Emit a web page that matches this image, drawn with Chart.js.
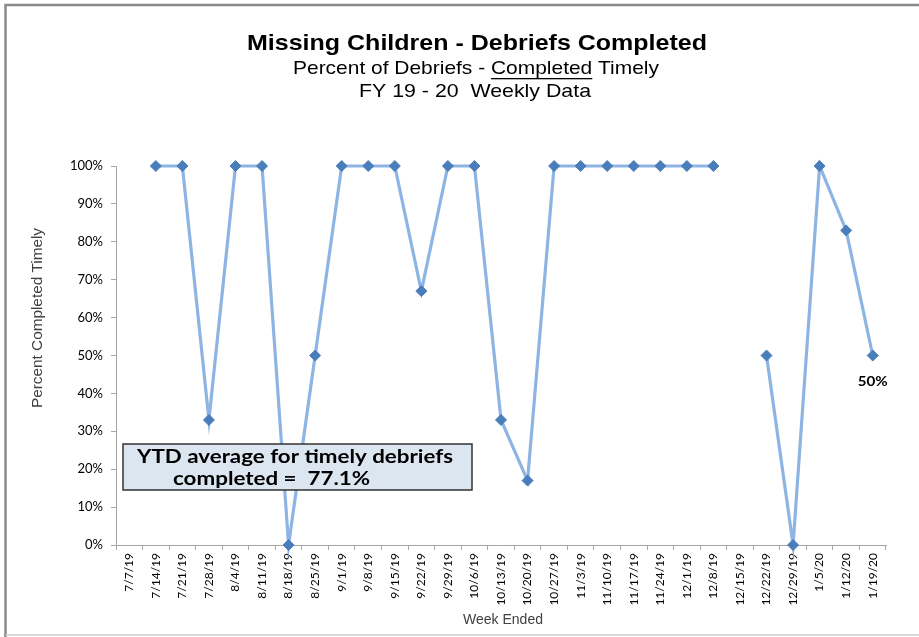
<!DOCTYPE html>
<html>
<head>
<meta charset="utf-8">
<script src="https://cdn.jsdelivr.net/npm/chart.js@4/dist/chart.umd.min.js"></script>
<style>
html,body{margin:0;padding:0;background:#fff;}
#wrap{position:relative;width:919px;height:637px;}
</style>
</head>
<body>
<div id="wrap"><canvas id="c" width="919" height="637"></canvas></div>
<script>
const weeks = ["7/7/19","7/14/19","7/21/19","7/28/19","8/4/19","8/11/19","8/18/19","8/25/19","9/1/19","9/8/19","9/15/19","9/22/19","9/29/19","10/6/19","10/13/19","10/20/19","10/27/19","11/3/19","11/10/19","11/17/19","11/24/19","12/1/19","12/8/19","12/15/19","12/22/19","12/29/19","1/5/20","1/12/20","1/19/20"];
const pctTimely = [null,100,100,33,100,100,0,50,100,100,100,67,100,100,33,17,100,100,100,100,100,100,100,null,50,0,100,83,50];
const yTicks = [0,10,20,30,40,50,60,70,80,90,100];
const titleText = "Missing Children - Debriefs Completed";
const subtitle1 = ["Percent of Debriefs - ","Completed"," Timely"];
const subtitle2 = "FY 19 - 20  Weekly Data";
const ytdText = ["YTD average for timely debriefs","completed =  77.1%"];
const lastLabel = "50%";
const yTitle = "Percent Completed Timely";
const xTitle = "Week Ended";

// draw text at (x,y) (left edge), horizontally scaled to targetW
function fitText(ctx, text, x, y, targetW){
  const w = ctx.measureText(text).width;
  const k = targetW / w;
  ctx.save();
  ctx.translate(x, y);
  ctx.scale(k, 1);
  ctx.textAlign = 'left';
  ctx.fillText(text, 0, 0);
  ctx.restore();
  return k;
}

const decor = {
  id:'decor',
  beforeDraw(chart){
    const ctx = chart.ctx;
    ctx.save();
    ctx.fillStyle = '#fff';
    ctx.fillRect(0,0,chart.width,chart.height);
    ctx.strokeStyle = '#8a8a8a';
    ctx.lineWidth = 2.5;
    ctx.beginPath();
    ctx.moveTo(5.5,637); ctx.lineTo(5.5,5); ctx.lineTo(919,5);
    ctx.stroke();
    ctx.strokeStyle = '#d9d9d9';
    ctx.lineWidth = 2;
    ctx.beginPath();
    ctx.moveTo(6,635); ctx.lineTo(919,635);
    ctx.stroke();
    ctx.restore();
  },
  afterDraw(chart){
    const ctx = chart.ctx;
    ctx.save();
    ctx.fillStyle = '#000';
    ctx.textBaseline = 'middle';
    const sans = '"Liberation Sans", Arial, sans-serif';
    ctx.font = 'bold 22px ' + sans;
    fitText(ctx, titleText, 247, 44, 460);
    ctx.font = '19px ' + sans;
    const full = subtitle1.join('');
    const wf = ctx.measureText(full).width;
    const k = 366 / wf;
    const w0 = ctx.measureText(subtitle1[0]).width * k;
    const w1 = ctx.measureText(subtitle1[1]).width * k;
    fitText(ctx, full, 293, 69, 366);
    ctx.fillRect(293 + w0, 78, w1, 1.3);
    fitText(ctx, subtitle2, 359, 92, 232);

    ctx.fillStyle = '#404040';
    ctx.font = '14px ' + sans;
    fitText(ctx, xTitle, 463, 620, 80);
    ctx.save();
    ctx.translate(38, 318);
    ctx.rotate(-Math.PI/2);
    fitText(ctx, yTitle, -90, 0, 180);
    ctx.restore();

    ctx.fillStyle = '#dce6f1';
    ctx.fillRect(123, 444, 349, 46);
    ctx.strokeStyle = '#333';
    ctx.lineWidth = 1.5;
    ctx.strokeRect(123, 444, 349, 46);
    ctx.fillStyle = '#000';
    ctx.font = 'bold 18px Lato, "Open Sans", sans-serif';
    fitText(ctx, ytdText[0], 137, 457, 316);
    fitText(ctx, ytdText[1], 173, 479, 197);

    const meta = chart.getDatasetMeta(0);
    const p = meta.data[pctTimely.length-1];
    ctx.font = 'bold 13px Lato, "Open Sans", sans-serif';
    fitText(ctx, lastLabel, p.x - 15, p.y + 26, 30);
    ctx.restore();
  }
};

new Chart(document.getElementById('c'), {
  type:'line',
  data:{
    labels: weeks,
    datasets:[{
      data: pctTimely,
      borderColor:'#8db4e2',
      borderWidth:3.2,
      pointStyle:'rectRot',
      pointRadius:5.5,
      pointBackgroundColor:'#4a7ebb',
      pointBorderColor:'#4a7ebb',
      pointBorderWidth:1,
      spanGaps:false,
      tension:0,
      clip:false
    }]
  },
  options:{
    responsive:false,
    animation:false,
    devicePixelRatio:1,
    layout:{padding:{top:166,right:33,bottom:0,left:0}},
    plugins:{legend:{display:false},tooltip:{enabled:false},title:{display:false}},
    scales:{
      x:{
        type:'category',
        offset:true,
        grid:{display:true,offset:true,drawOnChartArea:false,drawTicks:true,tickLength:5,color:'#a6a6a6'},
        border:{display:true,color:'#a6a6a6',width:1},
        ticks:{autoSkip:false,maxRotation:90,minRotation:90,padding:3,color:'#000',font:{family:'Lato, "Open Sans", sans-serif',size:12}},
        afterFit(s){ s.height = 92; }
      },
      y:{
        min:0,max:100,
        afterBuildTicks(s){ s.ticks = yTicks.map(v=>({value:v})); },
        grid:{display:true,drawOnChartArea:false,drawTicks:true,tickLength:5,color:'#a6a6a6'},
        border:{display:true,color:'#a6a6a6',width:1},
        ticks:{padding:8,color:'#000',font:{family:'Lato, "Open Sans", sans-serif',size:13},callback:v=>v+'%'},
        afterFit(s){ s.width = 116; }
      }
    }
  },
  plugins:[decor]
});
</script>
</body>
</html>
